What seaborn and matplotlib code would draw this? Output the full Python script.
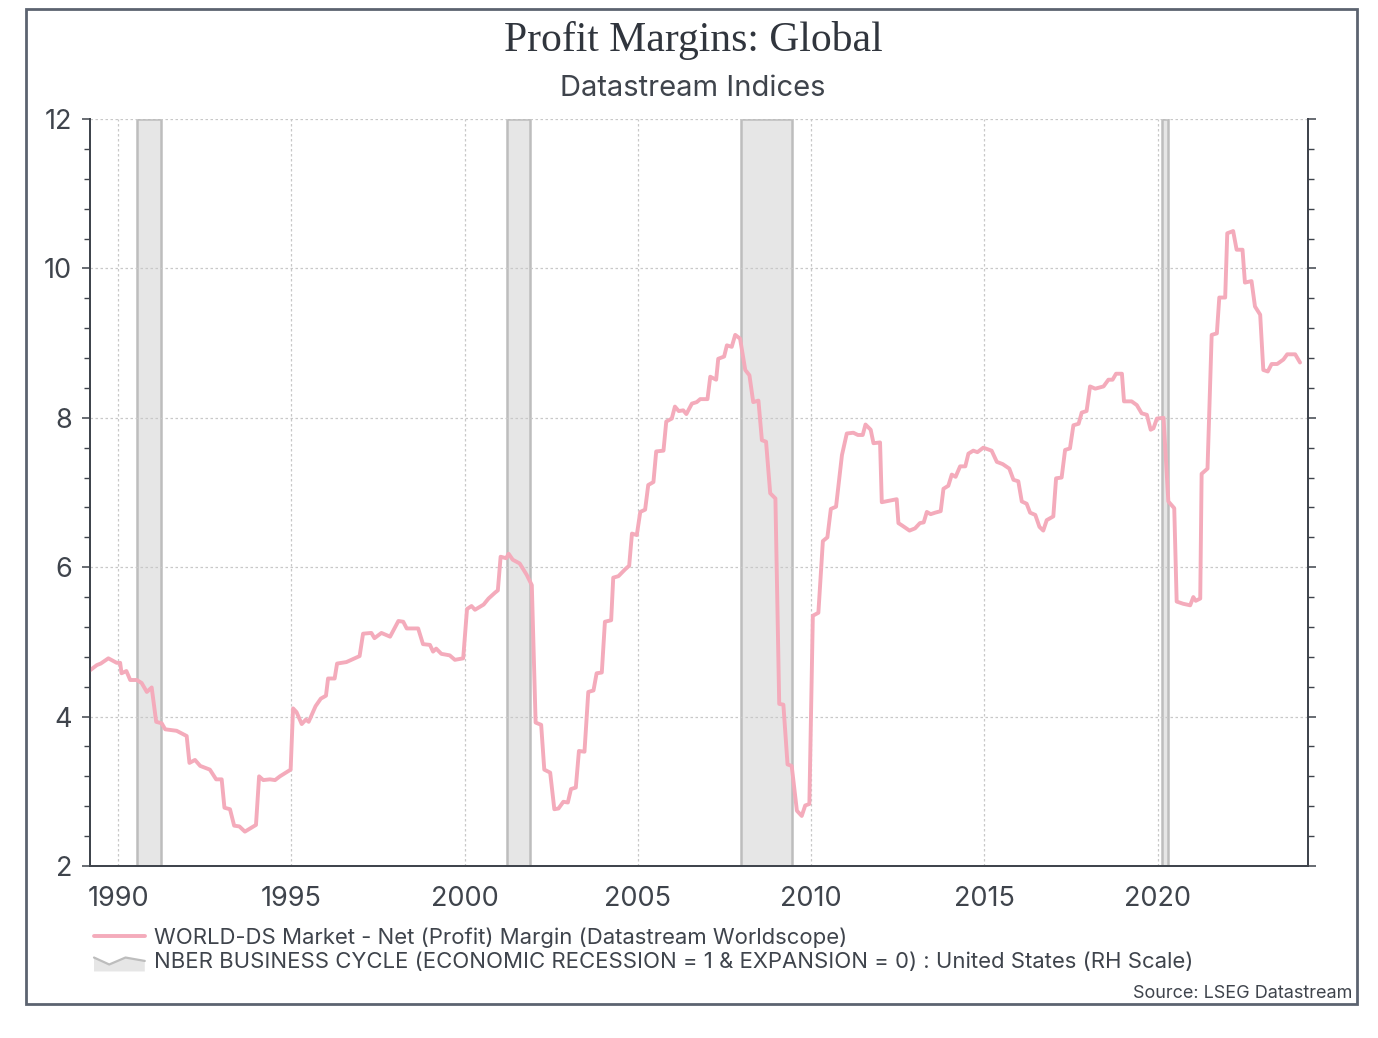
import pandas as pd
import seaborn as sns
import matplotlib.pyplot as plt
from matplotlib.lines import Line2D
from matplotlib.patches import Patch, Rectangle, Polygon
from matplotlib.legend_handler import HandlerBase
from matplotlib.ticker import MultipleLocator

# data (decimal years, margin in %)
years = [
    1989.19, 1989.39, 1989.50, 1989.72, 1989.96, 1990.06, 1990.10, 1990.24, 1990.35, 1990.54,
    1990.68, 1990.83, 1990.97, 1991.10, 1991.26, 1991.36, 1991.69, 1991.98, 1992.06, 1992.22,
    1992.37, 1992.65, 1992.83, 1992.99, 1993.07, 1993.23, 1993.35, 1993.50, 1993.66, 1993.98,
    1994.07, 1994.19, 1994.38, 1994.53, 1994.67, 1994.98, 1995.05, 1995.15, 1995.30, 1995.42,
    1995.50, 1995.70, 1995.85, 1996.00, 1996.06, 1996.25, 1996.32, 1996.59, 1996.97, 1997.07,
    1997.31, 1997.40, 1997.60, 1997.85, 1998.09, 1998.23, 1998.33, 1998.66, 1998.80, 1999.00,
    1999.09, 1999.18, 1999.33, 1999.57, 1999.72, 1999.96, 2000.07, 2000.20, 2000.30, 2000.55,
    2000.69, 2000.88, 2000.96, 2001.04, 2001.20, 2001.27, 2001.39, 2001.59, 2001.79, 2001.94,
    2002.05, 2002.21, 2002.30, 2002.47, 2002.59, 2002.71, 2002.85, 2002.98, 2003.07, 2003.21,
    2003.30, 2003.46, 2003.57, 2003.72, 2003.81, 2003.96, 2004.05, 2004.23, 2004.29, 2004.44,
    2004.63, 2004.75, 2004.83, 2004.97, 2005.07, 2005.21, 2005.30, 2005.45, 2005.53, 2005.74,
    2005.82, 2005.98, 2006.07, 2006.18, 2006.31, 2006.40, 2006.56, 2006.70, 2006.80, 2007.01,
    2007.09, 2007.26, 2007.32, 2007.49, 2007.57, 2007.71, 2007.81, 2007.95, 2008.10, 2008.22,
    2008.33, 2008.48, 2008.58, 2008.70, 2008.82, 2008.97, 2009.08, 2009.20, 2009.32, 2009.44,
    2009.59, 2009.73, 2009.83, 2009.95, 2010.05, 2010.21, 2010.34, 2010.47, 2010.57, 2010.72,
    2010.89, 2011.03, 2011.22, 2011.35, 2011.49, 2011.57, 2011.72, 2011.80, 2011.99, 2012.04,
    2012.47, 2012.52, 2012.62, 2012.84, 2013.00, 2013.14, 2013.25, 2013.34, 2013.45, 2013.58,
    2013.74, 2013.82, 2013.96, 2014.06, 2014.17, 2014.30, 2014.45, 2014.54, 2014.68, 2014.80,
    2014.97, 2015.21, 2015.36, 2015.53, 2015.72, 2015.84, 2015.98, 2016.08, 2016.22, 2016.32,
    2016.47, 2016.59, 2016.70, 2016.80, 2016.99, 2017.07, 2017.23, 2017.33, 2017.47, 2017.57,
    2017.72, 2017.81, 2017.95, 2018.05, 2018.20, 2018.44, 2018.58, 2018.70, 2018.80, 2018.97,
    2019.03, 2019.25, 2019.40, 2019.54, 2019.69, 2019.80, 2019.88, 2019.98, 2020.17, 2020.31,
    2020.48, 2020.55, 2020.74, 2020.94, 2021.03, 2021.10, 2021.23, 2021.27, 2021.44, 2021.56,
    2021.71, 2021.78, 2021.95, 2022.01, 2022.18, 2022.28, 2022.45, 2022.52, 2022.71, 2022.81,
    2022.96, 2023.05, 2023.18, 2023.29, 2023.45, 2023.63, 2023.74, 2023.97, 2024.11,
]
margin = [
    4.62, 4.69, 4.71, 4.78, 4.72, 4.72, 4.58, 4.61, 4.49, 4.49,
    4.45, 4.33, 4.39, 3.93, 3.91, 3.83, 3.81, 3.74, 3.38, 3.42,
    3.34, 3.29, 3.16, 3.16, 2.78, 2.76, 2.54, 2.53, 2.46, 2.55,
    3.20, 3.15, 3.16, 3.15, 3.20, 3.29, 4.11, 4.06, 3.90, 3.96,
    3.93, 4.14, 4.24, 4.28, 4.51, 4.51, 4.71, 4.73, 4.81, 5.11,
    5.12, 5.05, 5.12, 5.07, 5.28, 5.27, 5.18, 5.18, 4.97, 4.96,
    4.87, 4.91, 4.84, 4.82, 4.76, 4.78, 5.44, 5.48, 5.43, 5.50,
    5.58, 5.66, 5.69, 6.14, 6.12, 6.18, 6.10, 6.05, 5.90, 5.76,
    3.92, 3.89, 3.29, 3.25, 2.76, 2.77, 2.86, 2.85, 3.03, 3.05,
    3.54, 3.53, 4.33, 4.35, 4.58, 4.59, 5.27, 5.29, 5.86, 5.88,
    5.97, 6.02, 6.45, 6.43, 6.74, 6.77, 7.10, 7.14, 7.55, 7.56,
    7.95, 7.99, 8.15, 8.09, 8.10, 8.05, 8.19, 8.21, 8.25, 8.25,
    8.55, 8.51, 8.79, 8.82, 8.97, 8.95, 9.11, 9.06, 8.64, 8.57,
    8.21, 8.23, 7.70, 7.68, 6.99, 6.92, 4.17, 4.16, 3.36, 3.34,
    2.74, 2.67, 2.81, 2.83, 5.35, 5.39, 6.35, 6.40, 6.78, 6.81,
    7.50, 7.79, 7.80, 7.77, 7.77, 7.91, 7.84, 7.66, 7.67, 6.87,
    6.91, 6.59, 6.56, 6.49, 6.52, 6.59, 6.60, 6.74, 6.71, 6.73,
    6.75, 7.05, 7.09, 7.24, 7.21, 7.35, 7.35, 7.52, 7.56, 7.54,
    7.60, 7.56, 7.41, 7.38, 7.32, 7.17, 7.15, 6.88, 6.85, 6.73,
    6.70, 6.54, 6.49, 6.63, 6.68, 7.19, 7.20, 7.57, 7.59, 7.90,
    7.92, 8.07, 8.09, 8.42, 8.39, 8.42, 8.51, 8.51, 8.59, 8.59,
    8.22, 8.22, 8.17, 8.06, 8.04, 7.84, 7.86, 7.99, 8.00, 6.88,
    6.79, 5.54, 5.51, 5.49, 5.60, 5.55, 5.58, 7.25, 7.32, 9.11,
    9.13, 9.61, 9.61, 10.47, 10.50, 10.25, 10.25, 9.81, 9.83, 9.49,
    9.38, 8.64, 8.62, 8.72, 8.72, 8.78, 8.85, 8.85, 8.74,
]

# NBER recessions (US)
rec_start = [1990.54, 2001.21, 2007.97, 2020.12]
rec_end = [1991.25, 2001.90, 2009.45, 2020.31]

title = "Profit Margins: Global"
subtitle = "Datastream Indices"
line_label = "WORLD-DS Market - Net (Profit) Margin (Datastream Worldscope)"
rec_label = "NBER BUSINESS CYCLE (ECONOMIC RECESSION = 1 & EXPANSION = 0) : United States (RH Scale)"
source = "Source: LSEG Datastream"

sns.set_style("white")
plt.rcParams['font.family'] = ['Inter', 'DejaVu Sans']

ink = '#3f444c'
pink = '#f4abbb'
rec_fill = '#e6e6e6'
rec_edge = '#bdbdbd'

W, H = 1378, 1038
fig = plt.figure(figsize=(W / 100, H / 100), dpi=100)
ax = fig.add_axes([90 / W, 1 - 866 / H, (1308 - 90) / W, (866 - 119) / H])

df = pd.DataFrame({'year': years, 'margin': margin})

# recession bars span the full height (0..1 on the right scale)
for s, e in zip(rec_start, rec_end):
    ax.axvspan(s, e, facecolor=rec_fill, edgecolor=rec_edge, lw=1.8, zorder=1)

sns.lineplot(data=df, x='year', y='margin', ax=ax, color=pink, lw=2.8,
             estimator=None, sort=False, zorder=3, legend=False)

ax.set_xlim(1989.19, 2024.34)
ax.set_ylim(2, 12)
ax.set_xlabel('')
ax.set_ylabel('')
ax.xaxis.set_major_locator(MultipleLocator(5))
ax.xaxis.set_minor_locator(MultipleLocator(1))
ax.yaxis.set_major_locator(MultipleLocator(2))
ax.yaxis.set_minor_locator(MultipleLocator(0.4))
ax.set_axisbelow('line')
ax.grid(True, which='major', ls=(0, (2, 2)), color='#c8c8c8', lw=0.9)

ax.tick_params(which='major', direction='out', length=6, width=1.1, colors=ink,
               labelsize=19.5, pad=7)
ax.tick_params(axis='x', which='major', pad=8.5)
ax.tick_params(which='minor', direction='out', length=4, width=1.0, colors=ink)

ax2 = ax.twinx()
ax2.set_ylim(0, 1)
ax2.yaxis.set_major_locator(MultipleLocator(0.2))
ax2.yaxis.set_minor_locator(MultipleLocator(0.04))
ax2.tick_params(which='major', direction='out', length=6, width=1.1, colors=ink, labelright=False)
ax2.tick_params(which='minor', direction='out', length=4, width=1.0, colors=ink)

for a in (ax, ax2):
    a.spines['top'].set_visible(False)
    for side in ('left', 'right', 'bottom'):
        a.spines[side].set_color(ink)
        a.spines[side].set_linewidth(1.3)

fig.text(693 / W, 1 - 40 / H, title, ha='center', va='center',
         family='Liberation Serif', size=30, color='#30353d')
fig.text(693 / W, 1 - 88 / H, subtitle, ha='center', va='center', size=21, color=ink)


class AreaHandler(HandlerBase):
    def create_artists(self, legend, orig_handle, xdescent, ydescent, width, height,
                       fontsize, trans):
        x0, y0 = -xdescent, -ydescent - 0.2 * height
        top = [(x0, y0 + 0.9 * height), (x0 + 0.3 * width, y0 + 0.45 * height),
               (x0 + 0.62 * width, y0 + 0.9 * height), (x0 + width, y0 + 0.68 * height)]
        poly = Polygon([(x0, y0)] + top + [(x0 + width, y0)], closed=True,
                       facecolor=rec_fill, edgecolor='none', transform=trans)
        edge = Line2D([p[0] for p in top], [p[1] for p in top], color=rec_edge,
                      lw=1.6, transform=trans)
        return [poly, edge]


handles = [Line2D([], [], color=pink, lw=2.8), Patch(facecolor=rec_fill)]
fig.legend(handles, [line_label, rec_label], loc='upper left',
           bbox_to_anchor=(94 / W, 1 - 927 / H), frameon=False, fontsize=15.9,
           handlelength=2.3, handletextpad=0.4, labelspacing=0.22,
           borderaxespad=0, borderpad=0, labelcolor=ink,
           handler_map={Patch: AreaHandler()})

fig.text(1352 / W, 1 - 993 / H, source, ha='right', va='center', size=13, color=ink)

# outer frame
fig.add_artist(Rectangle((26 / W, 1 - 1004 / H), (1357 - 26) / W, (1004 - 9) / H,
                         transform=fig.transFigure, fill=False, edgecolor='#5c6370', lw=2))

fig.savefig('out.png', dpi=100)
